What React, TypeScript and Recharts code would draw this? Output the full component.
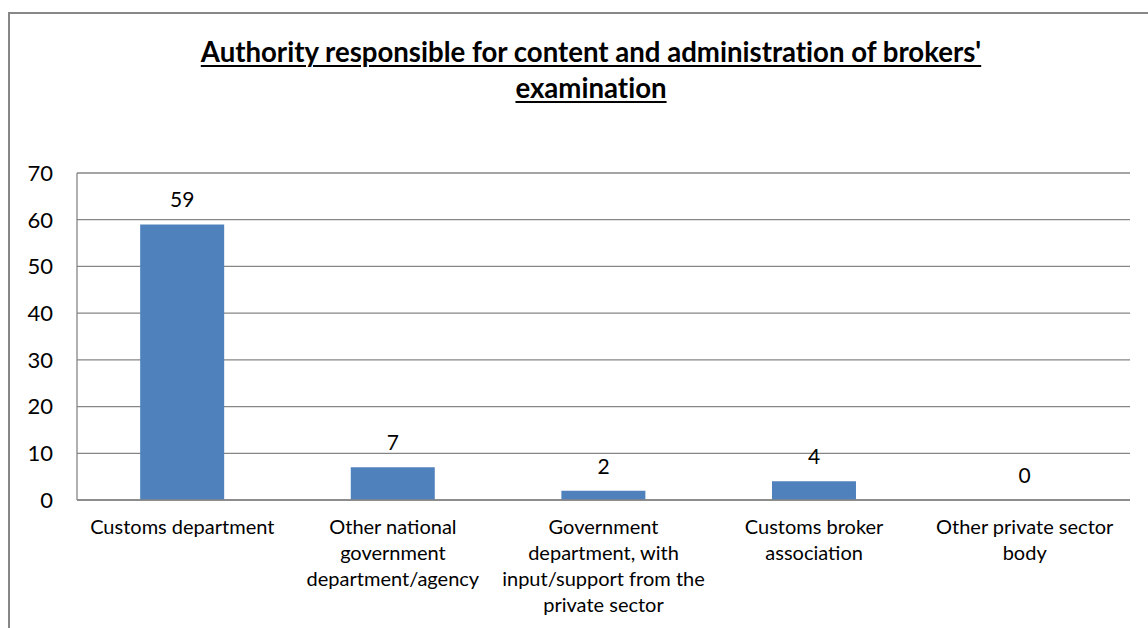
import React from "react";
import { ComposedChart, Bar, Line, XAxis, YAxis, CartesianGrid, LabelList } from "recharts";

const categories = [
  "Customs department",
  "Other national government department/agency",
  "Government department, with input/support from the private sector",
  "Customs broker association",
  "Other private sector body",
];
const categoryLines = [
  ["Customs department"],
  ["Other national", "government", "department/agency"],
  ["Government", "department, with", "input/support from the", "private sector"],
  ["Customs broker", "association"],
  ["Other private sector", "body"],
];
const values = [59, 7, 2, 4, 0];
const yTicks = [0, 10, 20, 30, 40, 50, 60, 70];
const titleLines = ["Authority responsible for content and administration of brokers'", "examination"];

const data = categories.map((name, i) => ({ name, value: values[i] }));

const FONT = "Lato, 'Open Sans', sans-serif";
const GRID = "#868686";

const CategoryTick = (props: any) => {
  const { x, y, payload } = props;
  const idx = categories.indexOf(payload.value);
  const lines = idx >= 0 ? categoryLines[idx] : [String(payload.value)];
  return (
    <text x={x} y={y + 26} textAnchor="middle" fill="#000" fontFamily={FONT} fontSize={20}>
      {lines.map((l, i) => (
        <tspan key={i} x={x} dy={i === 0 ? 0 : 26}>
          {l}
        </tspan>
      ))}
    </text>
  );
};

export default function App() {
  return (
    <div
      style={{
        position: "fixed",
        left: 0,
        top: 0,
        width: 1148,
        height: 628,
        overflow: "hidden",
        background: "#fff",
      }}
    >
      <div
        style={{
          position: "absolute",
          left: 8,
          top: 12,
          width: 1300,
          height: 800,
          borderLeft: "2px solid #878787",
          borderTop: "2px solid #878787",
          boxSizing: "border-box",
        }}
      />
      <div
        style={{
          position: "absolute",
          left: 41,
          width: 1100,
          top: 34,
          textAlign: "center",
          fontFamily: FONT,
          fontWeight: 700,
          fontSize: 27.6,
          lineHeight: "36px",
          color: "#000",
          fontVariantLigatures: "none",
        }}
      >
        {titleLines.map((l, i) => (
          <div key={i}>
            <span style={{ textDecoration: "underline", textDecorationThickness: 2, textUnderlineOffset: 3 }}>{l}</span>
          </div>
        ))}
      </div>
      <div style={{ position: "absolute", left: 0, top: 0 }}>
        <ComposedChart
          width={1148}
          height={628}
          data={data}
          margin={{ top: 173, right: 18, bottom: 28, left: 17 }}
          barCategoryGap="30%"
        >
          <CartesianGrid vertical={false} stroke={GRID} strokeWidth={1.3} />
          <XAxis
            dataKey="name"
            axisLine={{ stroke: GRID, strokeWidth: 1.3 }}
            tickLine={false}
            height={100}
            interval={0}
            tick={<CategoryTick />}
          />
          <YAxis
            domain={[0, 70]}
            ticks={yTicks}
            width={60}
            axisLine={{ stroke: GRID, strokeWidth: 1.3 }}
            tickLine={false}
            tickSize={0}
            tickMargin={24}
            tick={{ fill: "#000", fontFamily: FONT, fontSize: 22 }}
          />
          <Bar dataKey="value" fill="#4F81BD" isAnimationActive={false} />
          <Line
            dataKey="value"
            stroke="none"
            dot={false}
            activeDot={false}
            legendType="none"
            isAnimationActive={false}
          >
            <LabelList dataKey="value" position="top" offset={17} fill="#000" fontFamily={FONT} fontSize={21} />
          </Line>
        </ComposedChart>
      </div>
    </div>
  );
}
